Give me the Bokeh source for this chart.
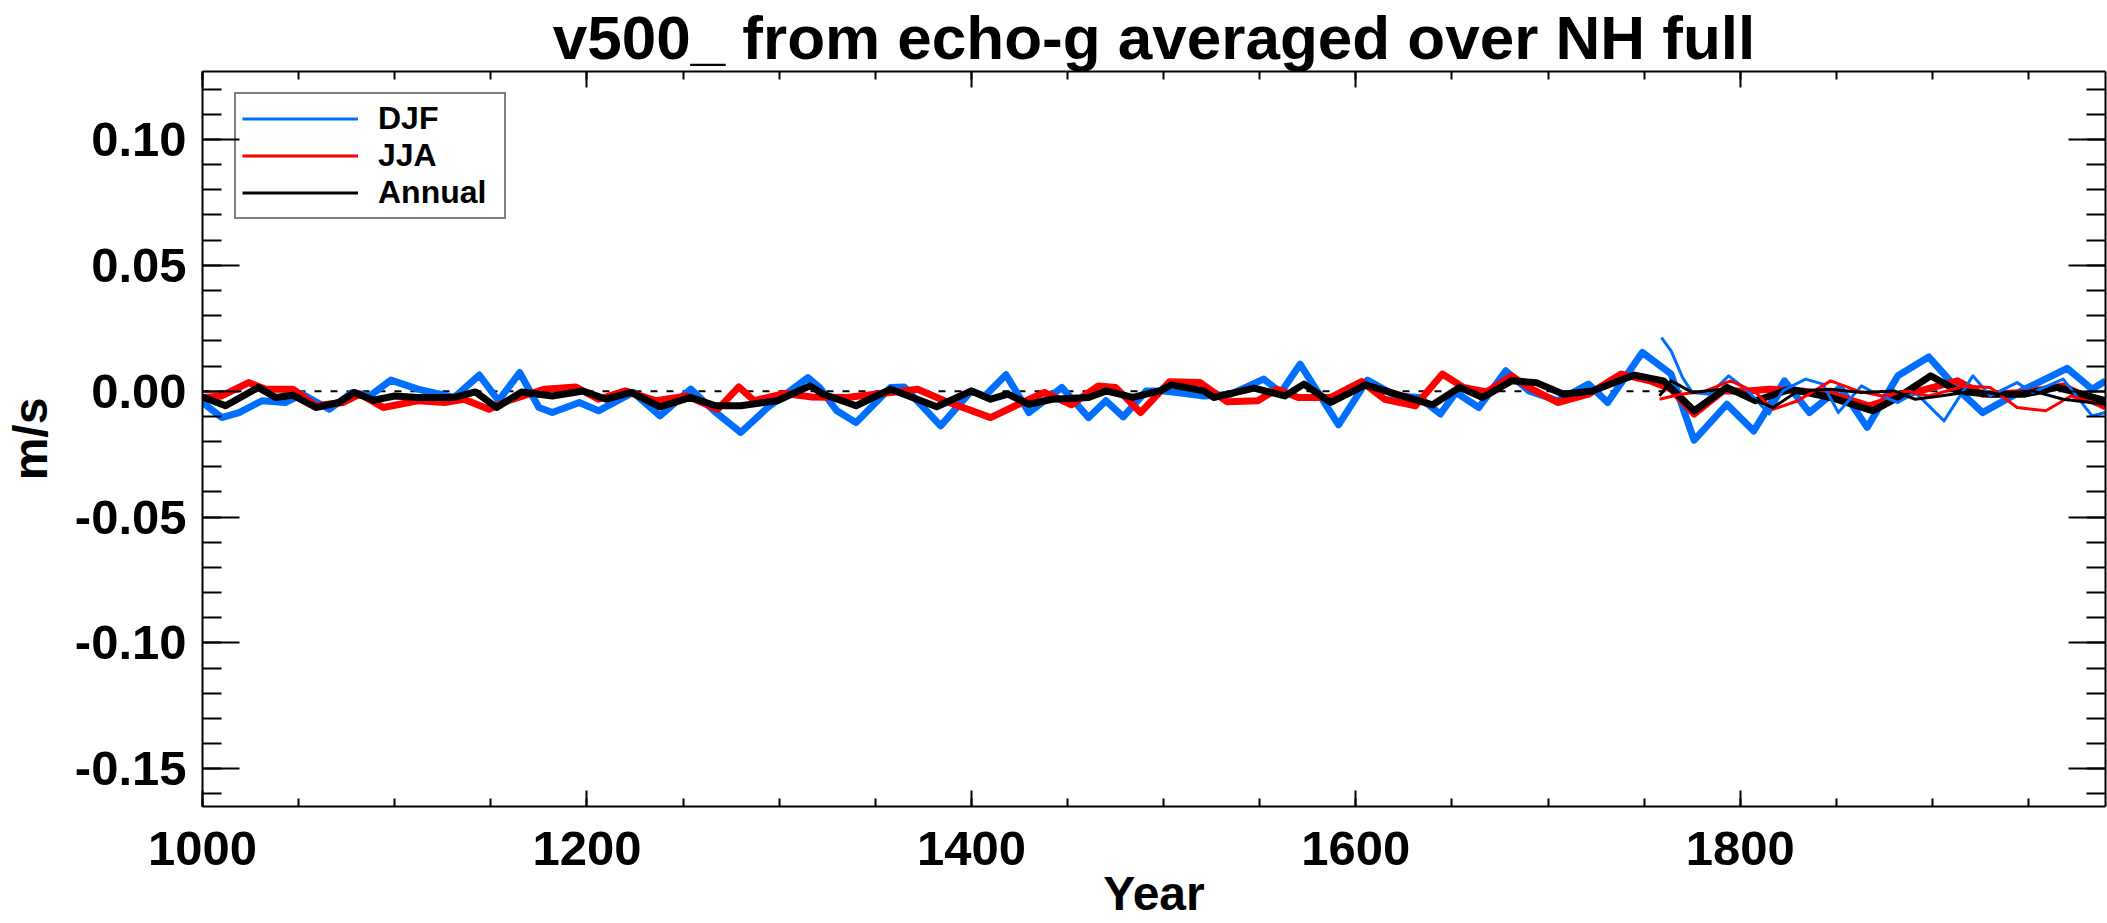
from bokeh.plotting import figure
from bokeh.models import (Span, Legend, LegendItem, LinearAxis, SingleIntervalTicker,
                          PrintfTickFormatter, Range1d, Title)
from bokeh.embed import file_html
from bokeh.resources import INLINE

# ---------------- data ----------------
djf_years = [1000, 1010, 1019, 1031, 1043, 1052, 1066, 1078, 1087, 1098, 1112, 1131, 1144, 1154, 1165,
             1175, 1182, 1196, 1206, 1224, 1238, 1254, 1266, 1280, 1294, 1315, 1321, 1330, 1340, 1358,
             1365, 1384, 1400, 1407, 1418, 1430, 1447, 1461, 1470, 1479, 1491, 1500, 1507, 1521, 1535,
             1552, 1561, 1571, 1591, 1606, 1621, 1633, 1644, 1652, 1664, 1678, 1690, 1705, 1721, 1731,
             1749, 1764, 1776, 1793, 1807, 1823, 1836, 1852, 1866, 1882, 1898, 1913, 1926, 1948, 1970,
             1983, 1990]
djf_values = [-0.0045, -0.0105, -0.0085, -0.0038, -0.0045, -0.0012, -0.0072, -0.0005, -0.0019, 0.0044,
              0.0008, -0.0025, 0.0064, -0.0038, 0.0074, -0.0065, -0.0085, -0.0045, -0.0078, -0.0005,
              -0.0098, 0.0008, -0.0078, -0.0164, -0.0065, 0.0054, 0.0015, -0.0078, -0.0125, 0.0015,
              0.0017, -0.0138, 0.0001, -0.0019, 0.0065, -0.0085, 0.0015, -0.0105, -0.0038, -0.0102,
              0.0001, 0.0001, -0.0005, -0.0019, -0.0012, 0.0048, -0.0005, 0.0107, -0.0134, 0.0044,
              -0.0019, -0.0025, -0.0091, -0.0005, -0.0065, 0.0081, 0.0001, -0.0038, 0.0028, -0.0045,
              0.0154, 0.0068, -0.0195, -0.0052, -0.0158, 0.0041, -0.0085, 0.0015, -0.0144, 0.0061,
              0.0136, 0.0008, -0.0085, 0.0008, 0.0091, 0.0008, 0.0041]

jja_years = [1000, 1010, 1024, 1033, 1047, 1059, 1073, 1082, 1094, 1112, 1126, 1136, 1149, 1159, 1178,
             1194, 1206, 1220, 1236, 1252, 1268, 1279, 1287, 1303, 1317, 1335, 1358, 1372, 1386, 1410,
             1424, 1438, 1452, 1466, 1475, 1488, 1503, 1519, 1533, 1549, 1559, 1570, 1587, 1603, 1615,
             1631, 1645, 1656, 1668, 1681, 1690, 1705, 1721, 1738, 1753, 1764, 1776, 1791, 1804, 1815,
             1832, 1847, 1867, 1887, 1913, 1926, 1948, 1968, 1990]
jja_values = [-0.0025, -0.0019, 0.0034, 0.0008, 0.0008, -0.0058, -0.0045, -0.0012, -0.0065, -0.0038,
              -0.0045, -0.0032, -0.0072, -0.0038, 0.0008, 0.0017, -0.0032, 0.0001, -0.0038, -0.0019,
              -0.0072, 0.0017, -0.0038, -0.0009, -0.0023, -0.0025, -0.0005, 0.0008, -0.0038, -0.0105,
              -0.0054, -0.0005, -0.0054, 0.0021, 0.0015, -0.0085, 0.0037, 0.0034, -0.0042, -0.0038,
              0.0008, -0.0025, -0.0025, 0.0038, -0.0032, -0.0058, 0.0068, 0.0015, -0.0003, 0.0061,
              0.0015, -0.0045, -0.0012, 0.0068, 0.0041, 0.0008, -0.0091, 0.0001, 0.0001, 0.0008,
              0.0001, -0.0012, -0.0058, -0.0012, 0.0041, -0.0012, -0.0005, 0.0021, -0.0062]

ann_years = [1000, 1012, 1029, 1038, 1047, 1059, 1071, 1079, 1089, 1100, 1112, 1131, 1142, 1153, 1166,
             1182, 1198, 1210, 1223, 1238, 1254, 1267, 1280, 1299, 1316, 1323, 1340, 1358, 1382, 1400,
             1410, 1419, 1430, 1442, 1461, 1470, 1484, 1498, 1504, 1521, 1526, 1547, 1563, 1573, 1587,
             1605, 1624, 1640, 1654, 1666, 1681, 1694, 1708, 1723, 1745, 1760, 1776, 1793, 1808, 1826,
             1847, 1869, 1882, 1899, 1913, 1930, 1948, 1965, 1990]
ann_values = [-0.0023, -0.0058, 0.0015, -0.0025, -0.0016, -0.0065, -0.0045, -0.0005, -0.0036, -0.0019,
              -0.0025, -0.0025, -0.0003, -0.0065, -0.0003, -0.0019, 0.0001, -0.0032, -0.0005, -0.0062,
              -0.0025, -0.0058, -0.0058, -0.0038, 0.0021, -0.0012, -0.0058, 0.0008, -0.0062, 0.0001,
              -0.0032, -0.0012, -0.0052, -0.0032, -0.0025, 0.0001, -0.0025, 0.0001, 0.0025, 0.0001,
              -0.0025, 0.0012, -0.0019, 0.0028, -0.0045, 0.0025, -0.0019, -0.0054, 0.0015, -0.0025,
              0.0041, 0.0034, -0.0012, 0.0001, 0.0064, 0.0041, -0.0078, 0.0015, -0.0038, 0.0008,
              -0.0025, -0.0078, -0.0025, 0.0061, 0.0001, -0.0012, -0.0012, 0.0015, -0.0038]

# thin (recent-period) series
djf2_years = [1759, 1764, 1770, 1775, 1784, 1794, 1804, 1815, 1822, 1834, 1843, 1851, 1863, 1871, 1882,
              1891, 1906, 1921, 1930, 1944, 1952, 1968, 1983, 1990]
djf2_values = [0.0213, 0.0160, 0.0054, -0.0005, -0.0012, 0.0061, 0.0001, -0.0091, 0.0001, 0.0048, 0.0028,
               -0.0085, 0.0021, -0.0012, -0.0045, -0.0005, -0.0118, 0.0061, -0.0019, 0.0034, -0.0005,
               0.0048, -0.0098, -0.0085]
jja2_years = [1758, 1769, 1782, 1795, 1808, 1817, 1830, 1847, 1861, 1874, 1887, 1898, 1917, 1930, 1944,
              1959, 1972, 1990]
jja2_values = [-0.0032, -0.0012, 0.0001, 0.0041, -0.0005, -0.0072, -0.0038, 0.0041, 0.0001, -0.0019,
               0.0001, -0.0019, 0.0021, 0.0015, -0.0065, -0.0078, -0.0019, -0.0065]
ann2_years = [1758, 1764, 1775, 1791, 1804, 1817, 1830, 1847, 1863, 1880, 1891, 1904, 1922, 1935, 1952,
              1968, 1990]
ann2_values = [-0.0019, 0.0041, -0.0005, 0.0008, -0.0025, -0.0065, 0.0001, 0.0008, -0.0005, 0.0001,
               -0.0032, -0.0019, 0.0001, -0.0012, 0.0001, -0.0032, -0.0052]

series_labels = ["DJF", "JJA", "Annual"]
title_text = "v500_ from echo-g averaged over NH full"
x_label = "Year"
y_label = "m/s"

# ---------------- styling ----------------
BLUE = "#006eff"
RED = "#ff0000"
BLACK = "#000000"
FONT = "Liberation Sans"

X0, X1 = 1000, 1990
Y0, Y1 = -0.165, 0.127

p = figure(width=2107, height=940, x_range=Range1d(X0, X1), y_range=Range1d(Y0, Y1),
           output_backend="svg", toolbar_location=None,
           x_axis_type=None, y_axis_type=None)
p.title = Title(text=title_text, align="center", text_font=FONT, text_font_style="bold",
                text_font_size="62px", text_color="black", standoff=0)
p.min_border_left = 202
p.min_border_right = 2
p.min_border_top = 71
p.min_border_bottom = 134
p.outline_line_color = None
p.background_fill_color = "white"
p.border_fill_color = "white"


def style_axis(ax, major_in, minor_in, show_labels):
    ax.axis_line_width = 2
    ax.axis_line_color = "black"
    ax.major_tick_line_width = 2
    ax.minor_tick_line_width = 2
    ax.major_tick_in = major_in
    ax.major_tick_out = 0
    ax.minor_tick_in = minor_in
    ax.minor_tick_out = 0
    if show_labels:
        ax.major_label_text_font = FONT
        ax.major_label_text_font_style = "bold"
        ax.major_label_text_font_size = "49px"
        ax.major_label_text_color = "black"
        ax.major_label_standoff = 15
        ax.axis_label_text_font = FONT
        ax.axis_label_text_font_style = "bold"
        ax.axis_label_text_font_size = "48px"
        ax.axis_label_text_color = "black"
    else:
        ax.major_label_standoff = 0


xticker = SingleIntervalTicker(interval=200, num_minor_ticks=4)
yticker = SingleIntervalTicker(interval=0.05, num_minor_ticks=5)

xb = LinearAxis(ticker=xticker, formatter=PrintfTickFormatter(format="%d"), axis_label=x_label)
style_axis(xb, 16, 8, True)
xb.major_label_standoff = 25
xb.axis_label_standoff = -1
# mirrored axes: ticks only, empty labels
xt = LinearAxis(ticker=xticker, formatter=PrintfTickFormatter(format=""))
style_axis(xt, 16, 8, False)
yl = LinearAxis(ticker=yticker, formatter=PrintfTickFormatter(format="%.2f"), axis_label=y_label)
style_axis(yl, 37, 19, True)
yl.major_label_standoff = 16
yl.axis_label_standoff = 15
yr = LinearAxis(ticker=yticker, formatter=PrintfTickFormatter(format=""))
style_axis(yr, 37, 19, False)
p.add_layout(xb, "below")
p.add_layout(xt, "above")
p.add_layout(yl, "left")
p.add_layout(yr, "right")

# zero line
p.add_layout(Span(location=0, dimension="width", line_color="black", line_width=2,
                  line_dash="7 9", level="underlay"))

# thick lines
p.line(djf_years, djf_values, line_color=BLUE, line_width=7, line_join="round")
p.line(jja_years, jja_values, line_color=RED, line_width=7, line_join="round")
p.line(ann_years, ann_values, line_color=BLACK, line_width=7, line_join="round")
# thin lines
r_djf = p.line(djf2_years, djf2_values, line_color=BLUE, line_width=3, line_join="round")
r_jja = p.line(jja2_years, jja2_values, line_color=RED, line_width=3, line_join="round")
r_ann = p.line(ann2_years, ann2_values, line_color=BLACK, line_width=3, line_join="round")

legend = Legend(items=[LegendItem(label=series_labels[0], renderers=[r_djf]),
                       LegendItem(label=series_labels[1], renderers=[r_jja]),
                       LegendItem(label=series_labels[2], renderers=[r_ann])],
                location=(32, 587))
legend.label_text_font = FONT
legend.label_text_font_style = "bold"
legend.label_text_font_size = "32px"
legend.label_text_color = "black"
legend.glyph_width = 116
legend.glyph_height = 25
legend.label_height = 25
legend.label_width = 120
legend.label_standoff = 20
legend.spacing = 0
legend.padding = 6
legend.margin = 0
legend.border_line_color = "black"
legend.border_line_width = 2
legend.background_fill_alpha = 0.0
p.add_layout(legend)

open("out.html", "w").write(file_html(p, INLINE))
